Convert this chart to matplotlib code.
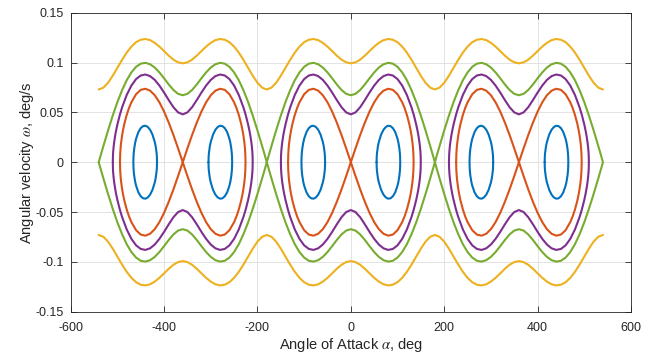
import numpy as np
import matplotlib
matplotlib.use('Agg')
import matplotlib.pyplot as plt
from matplotlib.ticker import FuncFormatter

# ---- data (upper half-branches, one period cell) ----
# blue: small closed orbit around the equilibrium near 80 deg
blue_alpha = [55.1, 55.5, 56, 58, 60, 65, 70, 75, 80, 85, 90, 95, 100, 102, 104, 105, 105.5, 105.8]
blue_omega = [0, 0.0060, 0.0090, 0.0160, 0.0204, 0.0279, 0.0326, 0.0354, 0.0366, 0.0362,
              0.0342, 0.0303, 0.0235, 0.0194, 0.0136, 0.0091, 0.0056, 0]

# red: separatrix through the saddle at 0 deg (half branch 0..turning point)
red_alpha = [0, 10, 20, 30, 40, 50, 60, 70, 80, 90, 100, 110, 115, 120, 125, 128, 130, 132, 133, 134, 134.43]
red_omega = [0, 0.0139, 0.0273, 0.0397, 0.0508, 0.0601, 0.0672, 0.0718, 0.0737, 0.0726,
             0.0682, 0.0601, 0.0545, 0.0475, 0.0387, 0.0320, 0.0266, 0.0197, 0.0151, 0.0083, 0]

# purple: closed orbit enclosing both lobes
purple_alpha = [0, 10, 20, 30, 40, 50, 60, 70, 80, 90, 100, 110, 120, 130, 135, 140, 143, 145,
                147, 148, 149, 149.5, 149.8]
purple_omega = [0.0480, 0.0500, 0.0552, 0.0623, 0.0699, 0.0769, 0.0826, 0.0864, 0.0880, 0.0870,
                0.0834, 0.0769, 0.0675, 0.0549, 0.0471, 0.0378, 0.0312, 0.0260, 0.0197, 0.0158,
                0.0106, 0.0066, 0]

# green: separatrix through the saddles at +-180 deg
green_alpha = [0, 10, 20, 30, 40, 50, 60, 70, 80, 90, 100, 110, 120, 130, 140, 150, 160, 170, 175, 180]
green_omega = [0.0672, 0.0686, 0.0725, 0.0780, 0.0842, 0.0901, 0.0950, 0.0983, 0.0997, 0.0989,
               0.0957, 0.0901, 0.0823, 0.0722, 0.0603, 0.0467, 0.0319, 0.0162, 0.0082, 0]

# yellow: rotating (open) trajectory
yellow_alpha = [0, 10, 20, 30, 40, 50, 60, 70, 80, 90, 100, 110, 120, 130, 140, 150, 160, 170, 180]
yellow_omega = [0.0992, 0.1002, 0.1029, 0.1069, 0.1115, 0.1160, 0.1198, 0.1225, 0.1236, 0.1229,
                0.1204, 0.1160, 0.1100, 0.1027, 0.0947, 0.0867, 0.0797, 0.0748, 0.0730]

period_shifts = [-360, 0, 360]

x_ticks = [-600, -400, -200, 0, 200, 400, 600]
y_ticks = [-0.15, -0.1, -0.05, 0, 0.05, 0.1, 0.15]

colors = {'blue': '#0072BD', 'red': '#D95319', 'yellow': '#EDB120',
          'purple': '#7E2F8E', 'green': '#77AC30'}

plt.rcParams['font.family'] = ['Liberation Sans', 'DejaVu Sans']
plt.rcParams['axes.unicode_minus'] = False
plt.rcParams['mathtext.fontset'] = 'stix'


def loop_single(a, w):
    a = np.asarray(a, float); w = np.asarray(w, float)
    return np.concatenate([a, a[::-1]]), np.concatenate([w, -w[::-1]])


def loop_about_zero(a, w):
    a = np.asarray(a, float); w = np.asarray(w, float)
    ua = np.concatenate([-a[::-1], a])
    uw = np.concatenate([w[::-1], w])
    return np.concatenate([ua, ua[::-1]]), np.concatenate([uw, -uw[::-1]])


fig = plt.figure(figsize=(6.54, 3.56), dpi=100)
ax = fig.add_axes([0.1081, 0.1244, 0.8567, 0.8399])

style = dict(lw=1.5, solid_capstyle='round', solid_joinstyle='round')
# blue
la, lw_ = loop_single(blue_alpha, blue_omega)
for s in period_shifts:
    ax.plot(s + la, lw_, color=colors['blue'], **style)
    ax.plot(s - la, lw_, color=colors['blue'], **style)
# red
la, lw_ = loop_about_zero(red_alpha, red_omega)
for s in period_shifts:
    ax.plot(s + la, lw_, color=colors['red'], **style)
# yellow
ya = np.asarray(yellow_alpha, float); yw = np.asarray(yellow_omega, float)
base_a = np.concatenate([-ya[::-1], ya]); base_w = np.concatenate([yw[::-1], yw])
full_a = np.concatenate([base_a + s for s in period_shifts])
full_w = np.concatenate([base_w for s in period_shifts])
ax.plot(full_a, full_w, color=colors['yellow'], **style)
ax.plot(full_a, -full_w, color=colors['yellow'], **style)
# purple
la, lw_ = loop_about_zero(purple_alpha, purple_omega)
for s in period_shifts:
    ax.plot(s + la, lw_, color=colors['purple'], **style)
# green
la, lw_ = loop_about_zero(green_alpha, green_omega)
for s in period_shifts:
    ax.plot(s + la, lw_, color=colors['green'], **style)

ax.set_xlim(-600, 600)
ax.set_ylim(-0.15, 0.15)
ax.set_xticks(x_ticks)
ax.set_yticks(y_ticks)
fmt = FuncFormatter(lambda v, p: '%g' % v)
ax.xaxis.set_major_formatter(fmt)
ax.yaxis.set_major_formatter(fmt)

ax.grid(True, color='#dedede', lw=0.6)
ax.set_axisbelow(True)
for sp in ax.spines.values():
    sp.set_color('#262626')
    sp.set_linewidth(0.6)
ax.tick_params(direction='in', top=True, right=True, length=4, width=0.6,
               colors='#262626', labelsize=9)
ax.tick_params(axis='x', pad=7.5)
ax.tick_params(axis='y', pad=5)

ax.set_xlabel(r'Angle of Attack $\alpha$, deg', fontsize=10.5, color='#262626', labelpad=1)
ax.set_ylabel(r'Angular velocity $\omega$, deg/s', fontsize=10.5, color='#262626', labelpad=0)

fig.savefig('out.png', dpi=100)
